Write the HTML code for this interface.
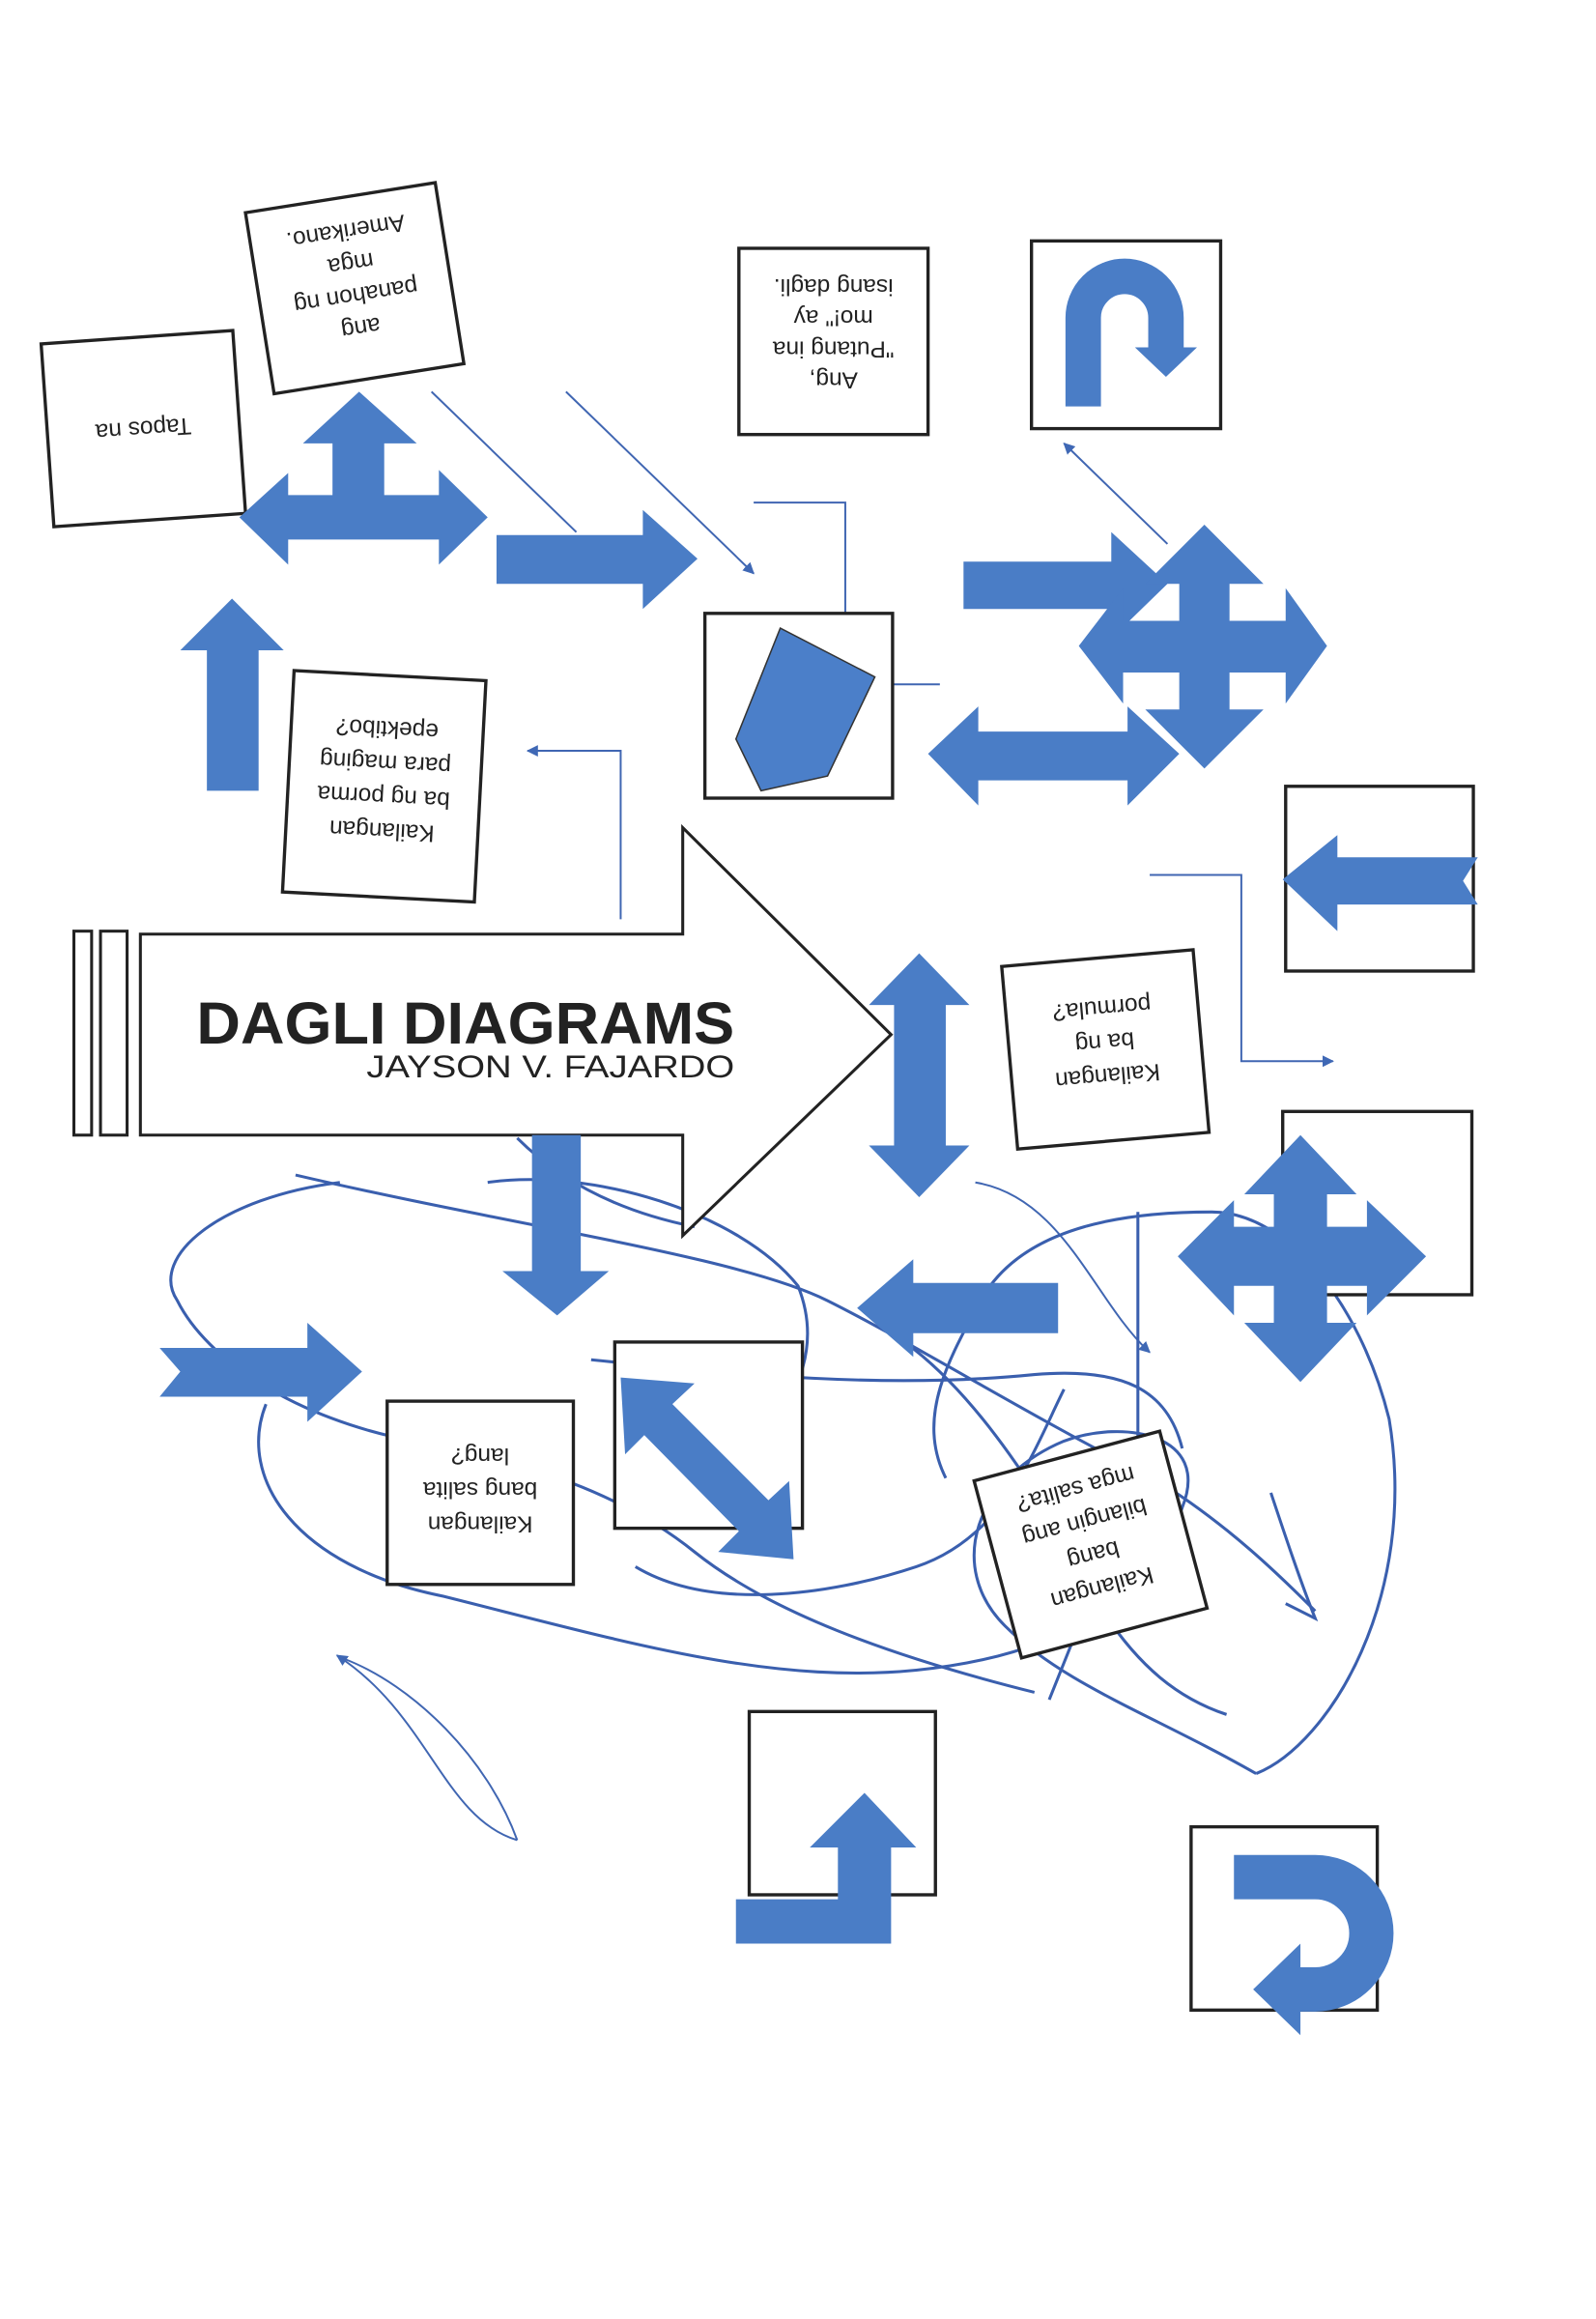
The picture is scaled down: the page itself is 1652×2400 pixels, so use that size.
<!DOCTYPE html>
<html><head><meta charset="utf-8"><style>
html,body{margin:0;padding:0;background:#fff;}
svg{display:block;}
</style></head><body>
<svg width="1652" height="2400" viewBox="0 0 1080 1569" preserveAspectRatio="none" xmlns="http://www.w3.org/2000/svg">
<rect width="1080" height="1569" fill="#fff"/>
<defs>
<marker id="ah" viewBox="0 0 10 10" refX="9" refY="5" markerWidth="6" markerHeight="6" orient="auto"><path d="M0,0 L10,5 L0,10 z" fill="#3f68b5"/></marker>
</defs>
<g fill="none" stroke="#4066b2" stroke-width="1.3">
<line x1="292" y1="265" x2="390" y2="360"/>
<line x1="383" y1="265" x2="510" y2="388" marker-end="url(#ah)"/>
<polyline points="510,340 572,340 572,415"/>
<line x1="604" y1="463" x2="636" y2="463"/>
<line x1="790" y1="368" x2="720" y2="300" marker-end="url(#ah)"/>
<polyline points="420,622 420,508 357,508" marker-end="url(#ah)"/>
<polyline points="778,592 840,592 840,718 902,718" marker-end="url(#ah)"/>
<path d="M350,1245 C300,1230 290,1160 228,1120" marker-end="url(#ah)"/>
<path d="M350,1245 C330,1190 280,1140 232,1122"/>
<path d="M660,800 C720,810 740,880 778,915" marker-end="url(#ah)"/>
</g>
<g fill="none" stroke="#3a5fae" stroke-width="2">
<path d="M200,795 C350,830 500,850 560,880 C620,910 700,960 780,1000 C830,1030 870,1070 890,1090"/>
<path d="M230,800 C150,810 100,850 120,880 C140,920 200,960 280,975 C360,990 420,1010 470,1050 C520,1090 600,1120 700,1145"/>
<path d="M330,800 C400,790 500,820 540,870 C560,920 530,960 500,990"/>
<path d="M180,950 C160,1000 200,1060 300,1080 C420,1110 520,1140 620,1130 C720,1120 780,1080 800,1020 C820,970 760,960 720,975 C660,1000 640,1060 680,1100 C720,1140 780,1160 850,1200"/>
<path d="M850,1200 C900,1180 960,1080 940,960 C920,880 870,820 820,820 C760,820 700,830 670,870 C640,920 620,960 640,1000"/>
<path d="M400,920 C500,930 600,940 700,930 C760,925 790,940 800,980"/>
<path d="M430,1060 C480,1090 560,1080 620,1060 C680,1040 700,980 720,940"/>
<path d="M770,820 L770,1000 L710,1150"/>
<path d="M600,900 C650,930 700,1000 740,1080 C770,1130 800,1150 830,1160"/>
<path d="M350,770 C380,800 420,820 470,830"/>
<path d="M860,1010 C870,1040 880,1070 890,1095 L870,1085"/>
</g>
<g fill="#fff" stroke="#222" stroke-width="2.2">
<rect x="-65" y="-62" width="130" height="124" transform="translate(97,290) rotate(-4)"/>
<rect x="-65" y="-62" width="130" height="124" transform="translate(240,195) rotate(-9)"/>
<rect x="500" y="168" width="128" height="126"/>
<rect x="698" y="163" width="128" height="127"/>
<rect x="477" y="415" width="127" height="125"/>
<rect x="-65" y="-75" width="130" height="150" transform="translate(260,532) rotate(3)"/>
<rect x="870" y="532" width="127" height="125"/>
<rect x="-65" y="-62" width="130" height="124" transform="translate(748,710) rotate(-5)"/>
<rect x="868" y="752" width="128" height="124"/>
<rect x="262" y="948" width="126" height="124"/>
<rect x="416" y="908" width="127" height="126"/>
<rect x="-65" y="-62" width="130" height="124" transform="translate(738,1045) rotate(-15)"/>
<rect x="507" y="1158" width="126" height="124"/>
<rect x="806" y="1236" width="126" height="124"/>
</g>
<polygon points="528,425 592,458 560,525 515,535 498,500" fill="#4b7fc9" stroke="#333" stroke-width="1"/>
<g fill="#fff" stroke="#222" stroke-width="2">
<rect x="50" y="630" width="12" height="138"/>
<rect x="68" y="630" width="18" height="138"/>
<polygon points="95,632 462,632 462,560 603,700 462,836 462,768 95,768"/>
</g>
<text x="133" y="706" font-family="Liberation Sans, sans-serif" font-weight="bold" font-size="40" fill="#222" textLength="364" lengthAdjust="spacingAndGlyphs">DAGLI DIAGRAMS</text>
<text x="248" y="729" font-family="Liberation Sans, sans-serif" font-size="21" fill="#222" textLength="249" lengthAdjust="spacingAndGlyphs">JAYSON V. FAJARDO</text>
<g fill="#4a7dc6">
<polygon points="140,535 175,535 175,440 192,440 157,405 122,440 140,440"/>
<polygon points="162,350 195,320 195,335 225,335 225,300 205,300 243,265 282,300 260,300 260,335 297,335 297,318 330,350 297,382 297,365 195,365 195,382"/>
<polygon points="336,362 435,362 435,345 472,378 435,412 435,395 336,395"/>
<polygon points="652,380 752,380 752,360 790,395 752,432 752,412 652,412"/>
<polygon points="815,355 855,395 832,395 832,420 870,420 870,398 898,437 870,476 870,455 832,455 832,480 855,480 815,520 775,480 798,480 798,455 760,455 760,476 730,437 760,398 760,420 798,420 798,395 775,395"/>
<polygon points="628,510 662,478 662,495 763,495 763,478 798,510 763,545 763,528 662,528 662,545"/>
<polygon points="868,595 905,565 905,580 1000,580 990,596 1000,612 905,612 905,630"/>
<polygon points="622,645 656,680 640,680 640,775 656,775 622,810 588,775 605,775 605,680 588,680"/>
<polygon points="880,768 918,808 898,808 898,830 925,830 925,812 965,850 925,890 925,870 898,870 898,895 918,895 880,935 842,895 862,895 862,870 835,870 835,890 797,850 835,812 835,830 862,830 862,808 842,808"/>
<polygon points="360,768 393,768 393,860 412,860 377,890 340,860 360,860"/>
<polygon points="108,912 208,912 208,895 245,928 208,962 208,945 108,945 122,928"/>
<polygon points="580,885 618,852 618,868 716,868 716,902 618,902 618,918"/>
<polygon points="420,932 470,936 455,950 520,1015 534,1002 537,1055 486,1050 500,1036 436,971 423,984"/>
<polygon points="498,1285 567,1285 567,1250 548,1250 585,1213 620,1250 603,1250 603,1315 498,1315"/>
</g>
<path d="M733,275 L733,215 A28,28 0 0 1 789,215 L789,235" fill="none" stroke="#4a7dc6" stroke-width="24"/>
<polygon points="768,235 810,235 789,255" fill="#4a7dc6"/>
<path d="M835,1270 L890,1270 A38,38 0 0 1 890,1346 L878,1346" fill="none" stroke="#4a7dc6" stroke-width="30"/>
<polygon points="880,1315 880,1377 848,1346" fill="#4a7dc6"/>
<g font-family="Liberation Sans, sans-serif" fill="#222" font-size="16" text-anchor="middle">
<g transform="translate(97,290) rotate(176)"><text x="0" y="5">Tapos na</text></g>
<g transform="translate(240,195) rotate(171)"><text y="44">Amerikano.</text><text y="22">mga</text><text y="0">panahon ng</text><text y="-22">ang</text></g>
<g transform="translate(564,231) rotate(180)"><text y="42">isang dagli.</text><text y="21">mo!" ay</text><text y="0">"Putang ina</text><text y="-21">Ang,</text></g>
<g transform="translate(260,532) rotate(183)"><text y="44">epektibo?</text><text y="21">para maging</text><text y="-2">ba ng porma</text><text y="-25">Kailangan</text></g>
<g transform="translate(748,710) rotate(175)"><text y="33">pormula?</text><text y="10">ba ng</text><text y="-13">Kailangan</text></g>
<g transform="translate(325,1010) rotate(180)"><text y="30">lang?</text><text y="7">bang salita</text><text y="-16">Kailangan</text></g>
<g transform="translate(738,1045) rotate(165)"><text y="44">mga salita?</text><text y="21">bilangin ang</text><text y="-2">bang</text><text y="-25">Kailangan</text></g>
</g>
</svg>
</body></html>
